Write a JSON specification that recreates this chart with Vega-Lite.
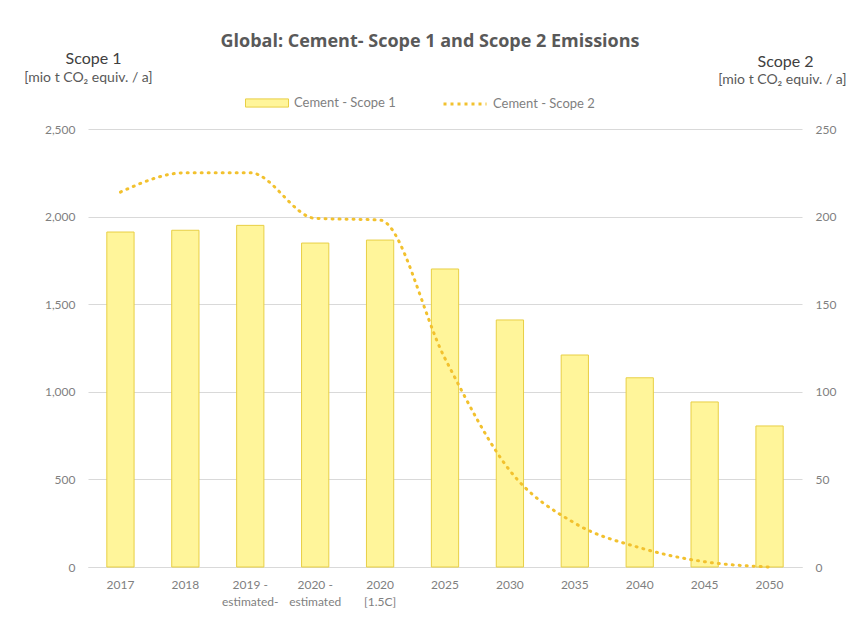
{
  "$schema": "https://vega.github.io/schema/vega-lite/v6.json",
  "width": 714,
  "height": 438,
  "autosize": "none",
  "padding": {"left": 88, "top": 129, "right": 54, "bottom": 52},
  "background": "white",
  "config": {
    "font": "Lato",
    "view": {"stroke": null}
  },
  "title": {
    "text": "Global: Cement- Scope 1 and Scope 2 Emissions",
    "anchor": "middle",
    "frame": "group",
    "offset": 0,
    "dx": -15,
    "dy": 1,
    "fontSize": 18,
    "font": "Open Sans",
    "fontWeight": "bold",
    "color": "#595959"
  },
  "data": {
    "values": [
      {"period": "2017", "scope1": 1912, "scope2": 214},
      {"period": "2018", "scope1": 1922, "scope2": 225},
      {"period": "2019 -\nestimated-", "scope1": 1950, "scope2": 225},
      {"period": "2020 -\nestimated", "scope1": 1849, "scope2": 199},
      {"period": "2020\n[1.5C]", "scope1": 1866, "scope2": 198},
      {"period": "2025", "scope1": 1701, "scope2": 119},
      {"period": "2030", "scope1": 1410, "scope2": 55},
      {"period": "2035", "scope1": 1210, "scope2": 25},
      {"period": "2040", "scope1": 1080, "scope2": 11},
      {"period": "2045", "scope1": 942, "scope2": 3},
      {"period": "2050", "scope1": 805, "scope2": 0}
    ]
  },
  "encoding": {
    "x": {
      "field": "period",
      "type": "nominal",
      "sort": null,
      "scale": {"paddingInner": 0.58, "paddingOuter": 0.29},
      "axis": {
        "title": null,
        "labelAngle": 0,
        "labelExpr": "split(datum.label, '\\n')",
        "labelFontSize": 12,
        "labelColor": "#7F7F7F",
        "labelPadding": 12,
        "labelLineHeight": 17,
        "labelBaseline": "top",
        "ticks": false,
        "domain": true,
        "domainColor": "#D9D9D9",
        "grid": false
      }
    }
  },
  "layer": [
    {
      "mark": {"type": "bar", "stroke": "#E8CF45", "strokeWidth": 1},
      "encoding": {
        "y": {
          "field": "scope1",
          "type": "quantitative",
          "scale": {"domain": [0, 2500]},
          "axis": {
            "orient": "left",
            "values": [0, 500, 1000, 1500, 2000, 2500],
            "format": ",.0f",
            "labelFontSize": 12,
            "labelColor": "#7F7F7F",
            "labelPadding": 13,
            "ticks": false,
            "domain": false,
            "grid": true,
            "gridColor": "#D9D9D9",
            "title": "Scope 1",
            "titleAngle": 0,
            "titleX": 5,
            "titleY": -66,
            "titleAlign": "center",
            "titleBaseline": "alphabetic",
            "titleFontSize": 16,
            "titleFontWeight": "normal",
            "titleColor": "#404040"
          }
        },
        "fill": {
          "datum": "Cement - Scope 1",
          "scale": {"domain": ["Cement - Scope 1"], "range": ["#FFF59A"]},
          "legend": {
            "title": null,
            "orient": "none",
            "direction": "horizontal",
            "legendX": 157,
            "legendY": -48,
            "padding": 0,
            "labelFontSize": 13,
            "labelColor": "#7F7F7F",
            "labelOffset": 5,
            "symbolType": "M-1,-0.19H1V0.19H-1Z",
            "symbolSize": 1849,
            "symbolStrokeColor": "#E8CF45",
            "symbolStrokeWidth": 1,
            "symbolOpacity": 1
          }
        }
      }
    },
    {
      "mark": {"type": "bar", "opacity": 0},
      "encoding": {
        "y": {
          "field": "scope1",
          "type": "quantitative",
          "scale": {"domain": [0, 2500]},
          "axis": {
            "orient": "left",
            "labels": false,
            "ticks": false,
            "domain": false,
            "grid": false,
            "title": "[mio t CO₂ equiv. / a]",
            "titleAngle": 0,
            "titleX": 0,
            "titleY": -48,
            "titleAlign": "center",
            "titleBaseline": "alphabetic",
            "titleFontSize": 14,
            "titleFontWeight": "normal",
            "titleColor": "#595959"
          }
        }
      }
    },
    {
      "mark": {"type": "line", "interpolate": "monotone", "strokeWidth": 3, "strokeDash": [1, 6], "strokeCap": "round"},
      "encoding": {
        "y": {
          "field": "scope2",
          "type": "quantitative",
          "scale": {"domain": [0, 250]},
          "axis": {
            "orient": "right",
            "values": [0, 50, 100, 150, 200, 250],
            "labelFontSize": 12,
            "labelColor": "#7F7F7F",
            "labelPadding": 13,
            "ticks": false,
            "domain": false,
            "grid": false,
            "title": "Scope 2",
            "titleAngle": 0,
            "titleX": -17,
            "titleY": -63,
            "titleAlign": "center",
            "titleBaseline": "alphabetic",
            "titleFontSize": 16,
            "titleFontWeight": "normal",
            "titleColor": "#404040"
          }
        },
        "stroke": {
          "datum": "Cement - Scope 2",
          "scale": {"domain": ["Cement - Scope 2"], "range": ["#F2C12E"]},
          "legend": {
            "title": null,
            "orient": "none",
            "direction": "horizontal",
            "legendX": 354,
            "legendY": -48,
            "padding": 0,
            "labelFontSize": 13,
            "labelColor": "#7F7F7F",
            "labelOffset": 5,
            "symbolType": "stroke",
            "symbolSize": 1849,
            "symbolDash": [3, 4],
            "symbolStrokeWidth": 3,
            "symbolOpacity": 1
          }
        }
      }
    },
    {
      "mark": {"type": "line", "opacity": 0},
      "encoding": {
        "y": {
          "field": "scope2",
          "type": "quantitative",
          "scale": {"domain": [0, 250]},
          "axis": {
            "orient": "right",
            "labels": false,
            "ticks": false,
            "domain": false,
            "grid": false,
            "title": "[mio t CO₂ equiv. / a]",
            "titleAngle": 0,
            "titleX": -20,
            "titleY": -46,
            "titleAlign": "center",
            "titleBaseline": "alphabetic",
            "titleFontSize": 14,
            "titleFontWeight": "normal",
            "titleColor": "#595959"
          }
        }
      }
    }
  ],
  "resolve": {"scale": {"y": "independent"}, "axis": {"y": "independent"}}
}
